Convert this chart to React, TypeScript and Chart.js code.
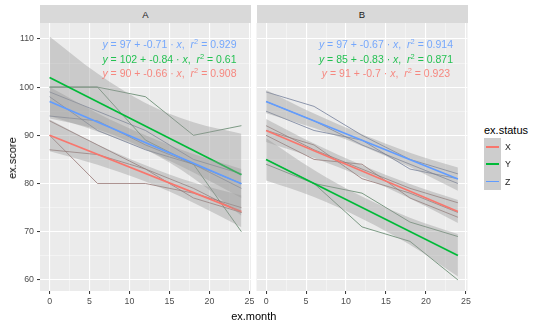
import React, { useEffect, useRef } from "react";
import { Chart, registerables } from "chart.js";

Chart.register(...registerables);

// ---------- data ----------
const months = [0, 6, 12, 18, 24];
const statuses = ["X", "Y", "Z"];
const statusColors = ["#F8766D", "#00BA38", "#619CFF"];
const rawColors = ["#8a6461", "#4a7556", "#63708f"];
const panels = ["A", "B"];

const xTicks = [0, 2.5, 5, 7.5, 10, 12.5, 15, 17.5, 20, 22.5, 25];
const yTicks = [60, 65, 70, 75, 80, 85, 90, 95, 100, 105, 110];

// Individual subject trajectories (panel A)
const rawA_X = [
  [90, 80, 80, 78, 75],
  [93, 88, 83, 79, 74],
  [87, 86, 83, 77, 74],
];
const rawA_Y = [
  [100, 100, 98, 90, 92],
  [100, 100, 89, 84, 70],
];
const rawA_Z = [
  [99, 95, 91, 85, 82],
  [94, 93, 88, 84, 79],
  [98, 91, 87, 84, 80],
];
// Individual subject trajectories (panel B)
const rawB_X = [
  [92, 87, 83, 79, 76],
  [90, 85, 84, 77, 73],
  [91, 88, 81, 78, 74],
];
const rawB_Y = [
  [84, 80, 78, 72, 69],
  [85, 80, 71, 68, 60],
];
const rawB_Z = [
  [99, 96, 90, 85, 82],
  [97, 93, 88, 84, 80],
  [95, 91, 89, 83, 81],
];

// Regression fits (X, Y, Z)
const interceptA = [90, 102, 97];
const slopeA = [-0.66, -0.84, -0.71];
const r2A = ["0.908", "0.61", "0.929"];
const interceptB = [91, 85, 97];
const slopeB = [-0.7, -0.83, -0.67];
const r2B = ["0.923", "0.871", "0.914"];

// Confidence ribbons at months (X, Y, Z)
const upperA_X = [93.3, 88.1, 83.8, 80.2, 77.5];
const lowerA_X = [86.7, 83.9, 80.4, 76.0, 70.9];
const upperA_Y = [110.5, 102.8, 96.7, 92.7, 90.3];
const lowerA_Y = [93.5, 91.2, 87.1, 81.1, 73.3];
const upperA_Z = [100.0, 94.6, 90.0, 86.1, 83.0];
const lowerA_Z = [94.0, 90.8, 87.0, 82.3, 77.0];

const upperB_X = [93.4, 88.3, 83.8, 79.9, 76.6];
const lowerB_X = [88.6, 85.3, 81.4, 76.9, 71.8];
const upperB_Y = [89.4, 82.8, 77.3, 72.9, 69.5];
const lowerB_Y = [80.6, 77.2, 72.7, 67.3, 60.7];
const upperB_Z = [99.4, 94.5, 90.2, 86.4, 83.3];
const lowerB_Z = [94.6, 91.5, 87.8, 83.4, 78.5];

const X_MIN = -1.2;
const X_MAX = 25.2;
const Y_MIN = 57.7;
const Y_MAX = 113.3;
const LABEL_X = 15;

// ---------- layout ----------
const PANEL_TOP = 23.3;
const PANEL_BOTTOM = 292;
const A_LEFT = 40;
const B_LEFT = 256.5;
const PANEL_W = 211;
const FONT = "'Liberation Sans', Arial, sans-serif";

const pts = (ys: number[]) => months.map((m, i) => ({ x: m, y: ys[i] }));

function buildDatasets(raw: number[][][], icpt: number[], slope: number[], up: number[][], lo: number[][]) {
  const ds: any[] = [];
  raw.forEach((subjects, si) => {
    subjects.forEach((s) => {
      ds.push({
        data: pts(s),
        borderColor: rawColors[si],
        borderWidth: 0.7,
        pointRadius: 0,
        fill: false,
        order: 100,
      });
    });
  });
  statuses.forEach((_, si) => {
    const lowerIdx = ds.length + 1;
    ds.push({
      data: pts(up[si]),
      borderColor: "rgba(0,0,0,0)",
      borderWidth: 0,
      pointRadius: 0,
      backgroundColor: "rgba(153,153,153,0.4)",
      fill: lowerIdx,
      cubicInterpolationMode: "monotone",
      order: 10 - si * 2,
    });
    ds.push({
      data: pts(lo[si]),
      borderColor: "rgba(0,0,0,0)",
      borderWidth: 0,
      pointRadius: 0,
      fill: false,
      cubicInterpolationMode: "monotone",
      order: 50,
    });
    ds.push({
      data: [
        { x: months[0], y: icpt[si] + slope[si] * months[0] },
        { x: months[months.length - 1], y: icpt[si] + slope[si] * months[months.length - 1] },
      ],
      borderColor: statusColors[si],
      borderWidth: 1.7,
      pointRadius: 0,
      fill: false,
      order: 9 - si * 2,
    });
  });
  return ds;
}

const bgPlugin = {
  id: "panelBg",
  beforeDraw(chart: any) {
    const { ctx, chartArea } = chart;
    ctx.save();
    ctx.fillStyle = "#EBEBEB";
    ctx.fillRect(chartArea.left, chartArea.top, chartArea.right - chartArea.left, chartArea.bottom - chartArea.top);
    ctx.restore();
  },
};

function makeOptions(showY: boolean, padL: number, padR: number): any {
  const isMajorX = (v: number) => v % 5 === 0;
  const isMajorY = (v: number) => v % 10 === 0;
  return {
    responsive: false,
    animation: false,
    events: [],
    layout: { padding: { left: padL, right: padR, top: 0, bottom: 0 } },
    plugins: { legend: { display: false }, tooltip: { enabled: false } },
    scales: {
      x: {
        type: "linear",
        min: X_MIN,
        max: X_MAX,
        afterBuildTicks: (axis: any) => {
          axis.ticks = xTicks.map((v) => ({ value: v }));
        },
        afterFit: (scale: any) => {
          scale.height = 20;
          scale.paddingLeft = 0;
          scale.paddingRight = 0;
        },
        border: { display: false },
        grid: {
          color: (c: any) => (c.tick && isMajorX(c.tick.value) ? "#FFFFFF" : "rgba(255,255,255,0.75)"),
          lineWidth: (c: any) => (c.tick && isMajorX(c.tick.value) ? 1.1 : 0.55),
          tickColor: (c: any) => (c.tick && isMajorX(c.tick.value) ? "#333333" : "rgba(0,0,0,0)"),
          tickLength: 3,
          tickWidth: 1,
        },
        ticks: {
          autoSkip: false,
          maxRotation: 0,
          padding: 2,
          color: "#4D4D4D",
          font: { family: FONT, size: 8.8 },
          callback: (v: any) => (isMajorX(Number(v)) ? String(v) : ""),
        },
      },
      y: {
        type: "linear",
        min: Y_MIN,
        max: Y_MAX,
        afterBuildTicks: (axis: any) => {
          axis.ticks = yTicks.map((v) => ({ value: v }));
        },
        afterFit: (scale: any) => {
          scale.width = showY ? 40 : 0;
          scale.paddingTop = 0;
          scale.paddingBottom = 0;
        },
        border: { display: false },
        grid: {
          color: (c: any) => (c.tick && isMajorY(c.tick.value) ? "#FFFFFF" : "rgba(255,255,255,0.75)"),
          lineWidth: (c: any) => (c.tick && isMajorY(c.tick.value) ? 1.1 : 0.55),
          tickColor: (c: any) => (showY && c.tick && isMajorY(c.tick.value) ? "#333333" : "rgba(0,0,0,0)"),
          tickLength: showY ? 3 : 0,
          tickWidth: 1,
        },
        ticks: {
          display: showY,
          autoSkip: false,
          padding: 3,
          color: "#4D4D4D",
          font: { family: FONT, size: 8.8 },
          callback: (v: any) => (isMajorY(Number(v)) ? String(v) : ""),
        },
      },
    },
  };
}

function eqText(i: number, icpt: number[], slope: number[], r2: string[]) {
  return (
    <>
      <i>y</i>
      {" = " + icpt[i] + " + " + slope[i] + " \u00B7 "}
      <i>x</i>
      {",  "}
      <i>r</i>
      <span style={{ fontSize: "7.5px", position: "relative", top: "-4px" }}>2</span>
      {" = " + r2[i]}
    </>
  );
}

export default function App() {
  const refA = useRef<HTMLCanvasElement | null>(null);
  const refB = useRef<HTMLCanvasElement | null>(null);

  useEffect(() => {
    const chartA = new Chart(refA.current as HTMLCanvasElement, {
      type: "line",
      data: {
        datasets: buildDatasets(
          [rawA_X, rawA_Y, rawA_Z],
          interceptA,
          slopeA,
          [upperA_X, upperA_Y, upperA_Z],
          [lowerA_X, lowerA_Y, lowerA_Z]
        ),
      },
      options: makeOptions(true, 0, 11),
      plugins: [bgPlugin],
    });
    const chartB = new Chart(refB.current as HTMLCanvasElement, {
      type: "line",
      data: {
        datasets: buildDatasets(
          [rawB_X, rawB_Y, rawB_Z],
          interceptB,
          slopeB,
          [upperB_X, upperB_Y, upperB_Z],
          [lowerB_X, lowerB_Y, lowerB_Z]
        ),
      },
      options: makeOptions(false, 4.5, 6.5),
      plugins: [bgPlugin],
    });
    return () => {
      chartA.destroy();
      chartB.destroy();
    };
  }, []);

  const canvasH = PANEL_BOTTOM - PANEL_TOP + 20;
  const pxPerX = PANEL_W / (X_MAX - X_MIN);
  const pxPerY = (PANEL_BOTTOM - PANEL_TOP) / (Y_MAX - Y_MIN);
  const eqLines = [2, 1, 0]; // Z, Y, X from top
  const eqTopY = [108.8, 105.7, 102.75];

  const renderEqs = (panelLeft: number, icpt: number[], slope: number[], r2: string[]) =>
    eqLines.map((si, k) => (
      <div
        key={k}
        style={{
          position: "absolute",
          left: panelLeft + (LABEL_X - X_MIN) * pxPerX,
          top: PANEL_TOP + (Y_MAX - eqTopY[k]) * pxPerY,
          transform: "translate(-50%, -50%)",
          whiteSpace: "pre",
          color: statusColors[si],
          fontSize: "10.5px",
          lineHeight: "12px",
          opacity: 0.85,
        }}
      >
        {eqText(si, icpt, slope, r2)}
      </div>
    ));

  return (
    <div
      style={{
        position: "absolute",
        left: 0,
        top: 0,
        width: 540,
        height: 325,
        background: "#FFFFFF",
        fontFamily: FONT,
        overflow: "hidden",
      }}
    >
      {panels.map((p, i) => (
        <div
          key={p}
          style={{
            position: "absolute",
            left: i === 0 ? A_LEFT : B_LEFT,
            top: 5,
            width: PANEL_W,
            height: PANEL_TOP - 5,
            background: "#D9D9D9",
            color: "#1A1A1A",
            fontSize: "9.5px",
            display: "flex",
            alignItems: "center",
            justifyContent: "center",
          }}
        >
          {p}
        </div>
      ))}
      <canvas
        ref={refA}
        width={262}
        height={canvasH}
        style={{ position: "absolute", left: 0, top: PANEL_TOP }}
      />
      <canvas
        ref={refB}
        width={222}
        height={canvasH}
        style={{ position: "absolute", left: 252, top: PANEL_TOP }}
      />
      {renderEqs(A_LEFT, interceptA, slopeA, r2A)}
      {renderEqs(B_LEFT, interceptB, slopeB, r2B)}
      <div
        style={{
          position: "absolute",
          left: (A_LEFT + B_LEFT + PANEL_W) / 2,
          top: 316,
          transform: "translate(-50%, -50%)",
          fontSize: "11px",
          color: "#000",
          whiteSpace: "nowrap",
        }}
      >
        ex.month
      </div>
      <div
        style={{
          position: "absolute",
          left: 11.5,
          top: (PANEL_TOP + PANEL_BOTTOM) / 2,
          transform: "translate(-50%, -50%) rotate(-90deg)",
          fontSize: "11px",
          color: "#000",
          whiteSpace: "nowrap",
        }}
      >
        ex.score
      </div>
      <div
        style={{
          position: "absolute",
          left: 484,
          top: 124,
          fontSize: "11px",
          color: "#000",
          whiteSpace: "nowrap",
        }}
      >
        ex.status
      </div>
      {statuses.map((s, i) => (
        <React.Fragment key={s}>
          <div
            style={{
              position: "absolute",
              left: 484.3,
              top: 138.3 + i * 17.3,
              width: 16.6,
              height: 17.3,
              background: "#CDCDCD",
            }}
          >
            <div
              style={{
                position: "absolute",
                left: 1.7,
                right: 1.7,
                top: 7.8,
                height: 1.7,
                background: statusColors[i],
              }}
            />
          </div>
          <div
            style={{
              position: "absolute",
              left: 505,
              top: 138.3 + i * 17.3 + 8.65,
              transform: "translateY(-50%)",
              fontSize: "8.8px",
              color: "#1A1A1A",
            }}
          >
            {s}
          </div>
        </React.Fragment>
      ))}
    </div>
  );
}
